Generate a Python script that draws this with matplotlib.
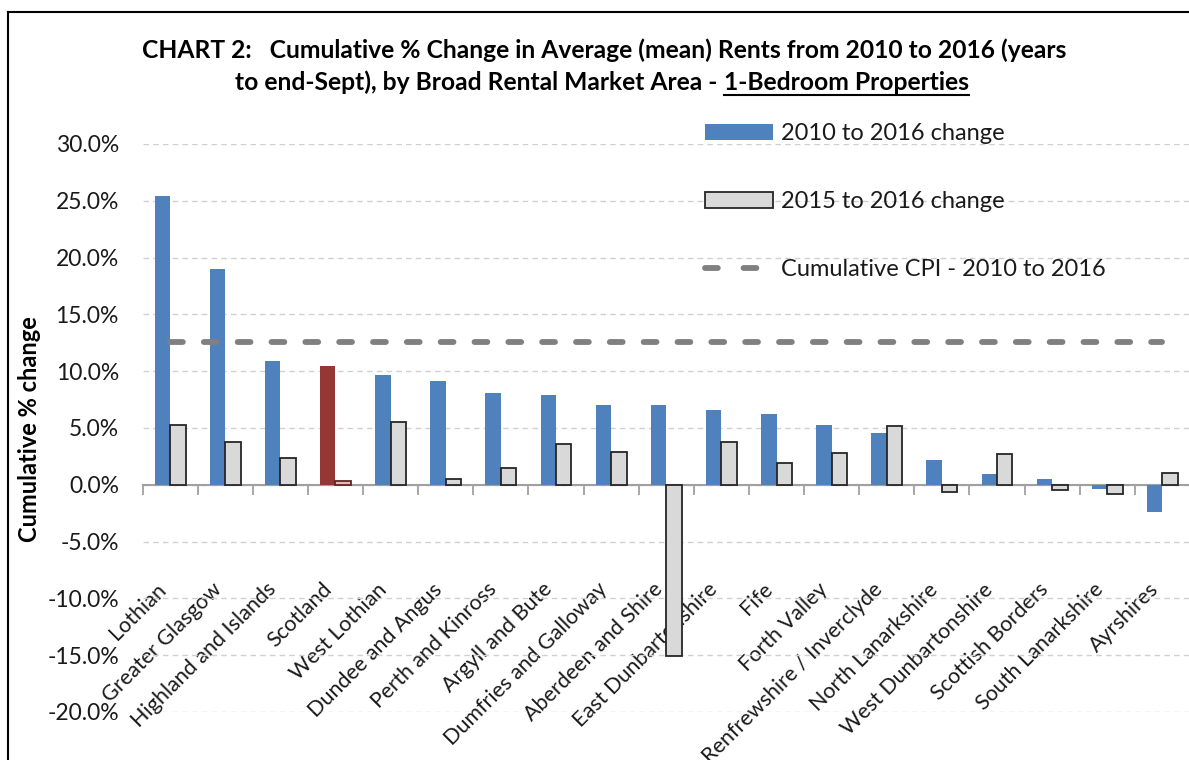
"""Cumulative % change in mean rents, 1-bedroom properties, by BRMA"""
import matplotlib
matplotlib.use("Agg")
import matplotlib.pyplot as plt
from matplotlib.lines import Line2D
from matplotlib.patches import Patch
import numpy as np

plt.rcParams['font.family'] = ['Lato', 'DejaVu Sans']

# DATA
areas = ["Lothian", "Greater Glasgow", "Highland and Islands", "Scotland",
         "West Lothian", "Dundee and Angus", "Perth and Kinross",
         "Argyll and Bute", "Dumfries and Galloway", "Aberdeen and Shire",
         "East Dunbartonshire", "Fife", "Forth Valley",
         "Renfrewshire / Inverclyde", "North Lanarkshire",
         "West Dunbartonshire", "Scottish Borders", "South Lanarkshire",
         "Ayrshires"]
change_2010_2016 = [25.4, 19.0, 10.9, 10.5, 9.7, 9.15, 8.1, 7.9, 7.0, 7.0,
                    6.55, 6.2, 5.3, 4.6, 2.15, 0.95, 0.47, -0.4, -2.4]
change_2015_2016 = [5.25, 3.8, 2.35, 0.3, 5.5, 0.55, 1.45, 3.6, 2.9, -15.1,
                    3.8, 1.9, 2.8, 5.2, -0.6, 2.7, -0.5, -0.8, 1.0]
cpi_2010_2016 = [12.6] * len(areas)
yticks = [-20, -15, -10, -5, 0, 5, 10, 15, 20, 25, 30]

BLUE = "#4F81BD"
GREY = "#D9D9D9"
RED = "#953735"
PINK = "#E6B9B8"
TXT = "#1A1A1A"
CPI_STYLE = (0, (2.2, 3.6))

fig = plt.figure(figsize=(11.89, 7.60), dpi=100)
ax = fig.add_axes([142.5 / 1189, 1 - 712 / 760, (1190 - 142.5) / 1189,
                   (712 - 144) / 760])

x = np.arange(len(areas))
w = 0.28
blue_cols = [RED if a == "Scotland" else BLUE for a in areas]
grey_cols = [PINK if a == "Scotland" else GREY for a in areas]
grey_edges = ["#632523" if a == "Scotland" else "#262626" for a in areas]

ax.bar(x - w / 2, change_2010_2016, w, color=blue_cols, zorder=3)
ax.bar(x + w / 2, change_2015_2016, w, color=grey_cols,
       edgecolor=grey_edges, linewidth=1.3, zorder=3)
ax.plot(x, cpi_2010_2016, color="#808080", lw=4.2, ls=CPI_STYLE,
        dash_capstyle='round', zorder=4)

ax.set_xlim(-0.5, len(areas) - 0.5)
ax.set_ylim(-20, 30)
ax.set_yticks(yticks)
ax.set_yticklabels(["%.1f%%" % v for v in yticks], fontsize=16.5, color=TXT)
ax.tick_params(axis='y', length=0, pad=17)
ax.yaxis.grid(True, color="#D0D0D0", ls=(0, (4, 3)), lw=1)
ax.set_axisbelow(True)

for s in ['top', 'right', 'left']:
    ax.spines[s].set_visible(False)
ax.spines['bottom'].set_position(('data', 0))
ax.spines['bottom'].set_color("#A0A0A0")
ax.spines['bottom'].set_linewidth(1.5)
ax.spines['bottom'].set_zorder(2)

ax.set_xticks(x)
ax.set_xticklabels(areas, rotation=45, ha='right', va='top', fontsize=15.5,
                   color=TXT)
ax.tick_params(axis='x', which='major', length=0, pad=68)
ax.set_xticks(np.arange(len(areas) + 1) - 0.5, minor=True)
ax.tick_params(axis='x', which='minor', length=7, width=1.3,
               color="#A0A0A0", direction='out')

fig.text(30 / 1189, 1 - 429 / 760, "Cumulative % change", rotation=90,
         ha='center', va='center', fontsize=17, fontweight='bold')

# title, second line has an underlined part
TFS = 17.7
fig.text(604 / 1189, 1 - 50 / 760,
         "CHART 2:   Cumulative % Change in Average (mean) Rents from 2010 to "
         "2016 (years", ha='center', va='center', fontsize=TFS,
         fontweight='bold')
part1 = "to end-Sept), by Broad Rental Market Area - "
part2 = "1-Bedroom Properties"
fig.canvas.draw()
r = fig.canvas.get_renderer()
t1 = fig.text(0, 0, part1, fontsize=TFS, fontweight='bold')
t2 = fig.text(0, 0, part2, fontsize=TFS, fontweight='bold')
w1 = t1.get_window_extent(r).width / 1189
w2 = t2.get_window_extent(r).width / 1189
x0 = 602 / 1189 - (w1 + w2) / 2
y2 = 1 - 82 / 760
t1.set_position((x0, y2))
t1.set_va('center')
t2.set_position((x0 + w1, y2))
t2.set_va('center')
ul_y = 1 - 95 / 760
fig.add_artist(Line2D([x0 + w1, x0 + w1 + w2], [ul_y, ul_y], color='black',
                      lw=1.5))

handles = [Patch(facecolor=BLUE),
           Patch(facecolor=GREY, edgecolor="#262626", linewidth=1.3),
           Line2D([], [], color="#808080", lw=4.2, ls=(0, (2.2, 4.4)),
                  dash_capstyle='round')]
labels = ["2010 to 2016 change", "2015 to 2016 change",
          "Cumulative CPI - 2010 to 2016"]
fig.legend(handles, labels, loc='upper left',
           bbox_to_anchor=(684 / 1189, 1 - 102 / 760), frameon=False,
           fontsize=17, handlelength=2.85, handleheight=0.68,
           labelspacing=1.98, handletextpad=0.35, labelcolor=TXT)

# chart border
bx, by = 8 / 1189, 1 - 12 / 760
fig.add_artist(Line2D([bx, bx], [0, by], color='black', lw=1.5))
fig.add_artist(Line2D([bx, 1], [by, by], color='black', lw=1.5))

fig.savefig("out.png", dpi=100)
